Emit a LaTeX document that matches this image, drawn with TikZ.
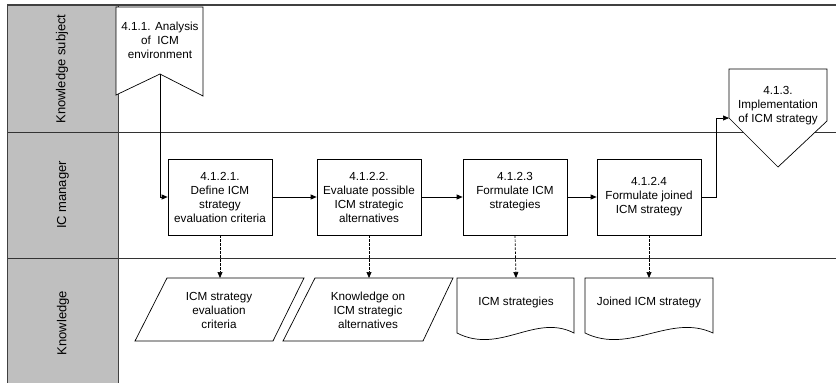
\documentclass[tikz,border=0pt]{standalone}
\usepackage{fontspec}
\setmainfont{Liberation Sans}
\usetikzlibrary{arrows.meta}
\newcommand\boxfont{\fontsize{11.7}{14}\selectfont}
\newcommand\lanefont{\fontsize{13}{15}\selectfont}
\tikzset{
  proc/.style={draw, line width=0.7pt, fill=white, minimum width=104pt, minimum height=76pt, align=center, inner sep=1pt, font=\boxfont},
  txt/.style={align=center, font=\boxfont, inner sep=0pt},
  shp/.style={draw, line width=0.7pt, fill=white},
  flow/.style={-{Triangle[length=6pt,width=5pt]}, line width=0.7pt},
  dflow/.style={flow, dash pattern=on 2.5pt off 1.5pt},
  laneline/.style={draw=black!80, line width=1pt},
  lanelbl/.style={rotate=90, font=\lanefont, inner sep=0pt}
}
\begin{document}
\begin{tikzpicture}[x=1pt,y=-1pt]
\useasboundingbox (0,0) rectangle (836,383);
% swimlanes
\fill[gray!50] (7,5) rectangle (118,383);
\draw[black!75, line width=1.4pt] (7,5) -- (836,5);
\draw[laneline] (7,132) -- (836,132);
\draw[laneline] (7,258) -- (836,258);
\draw[black!75, line width=1pt] (7,5) -- (7,383);
\draw[black!75, line width=1pt] (118,5) -- (118,383);
\node[lanelbl] (l1) at (62,69) {Knowledge subject};
\node[lanelbl] (l2) at (63,195) {IC manager};
\node[lanelbl] (l3) at (63,323) {Knowledge};
% 4.1.1 pentagon
\draw[shp] (116,7) -- (203,7) -- (203,96) -- (160,74) -- (116,95) -- cycle;
\coordinate (p1) at (160,74);
\node[txt] (t411) at (160,40) {4.1.1. Analysis\\of\ \ ICM\\environment};
% 4.1.3 pentagon
\draw[shp] (729,69) -- (827,69) -- (827,121) -- (778,167) -- (729,118) -- cycle;
\coordinate (p3) at (729,118);
\node[txt] (t413) at (778,106) {4.1.3.\\Implementation\\of ICM strategy};
% process boxes
\node[proc] (b1) at (220,197) {4.1.2.1.\\Define ICM\\strategy\\evaluation criteria};
\node[proc] (b2) at (369,197) {4.1.2.2.\\Evaluate possible\\ICM strategic\\alternatives};
\node[proc] (b3) at (515,197) {4.1.2.3\\Formulate ICM\\strategies\\\mbox{}};
\node[proc] (b4) at (649,197) {4.1.2.4\\Formulate joined\\ICM strategy};
% data parallelograms
\draw[shp] (167,278) -- (304,278) -- (273,341) -- (135,341) -- cycle;
\node[txt] (d1) at (219,310) {ICM strategy\\evaluation\\criteria};
\coordinate (d1t) at (220,278);
\draw[shp] (315,278) -- (453,278) -- (423,341) -- (283,341) -- cycle;
\node[txt] (d2) at (368,310) {Knowledge on\\ICM strategic\\alternatives};
\coordinate (d2t) at (369,278);
% documents
\draw[shp] (457,278) -- (574,278) -- (574,333) .. controls (535,313) and (500,355) .. (457,333) -- cycle;
\node[txt] (d3) at (516,302) {ICM strategies};
\coordinate (d3t) at (516,278);
\draw[shp] (585,278) -- (713,278) -- (713,333) .. controls (670,313) and (630,355) .. (585,333) -- cycle;
\node[txt] (d4) at (649,302) {Joined ICM strategy};
\coordinate (d4t) at (649,278);
% connectors
\draw[flow] (p1) |- (b1.west);
\draw[flow] (b1) -- (b2);
\draw[flow] (b2) -- (b3);
\draw[flow] (b3) -- (b4);
\draw[flow] (b4.east) -- (716,197) |- (p3);
\draw[dflow] (b1.south) -- (d1t);
\draw[dflow] (b2.south) -- (d2t);
\draw[dflow] (b3.south) -- (d3t);
\draw[dflow] (b4.south) -- (d4t);
\end{tikzpicture}
\end{document}
